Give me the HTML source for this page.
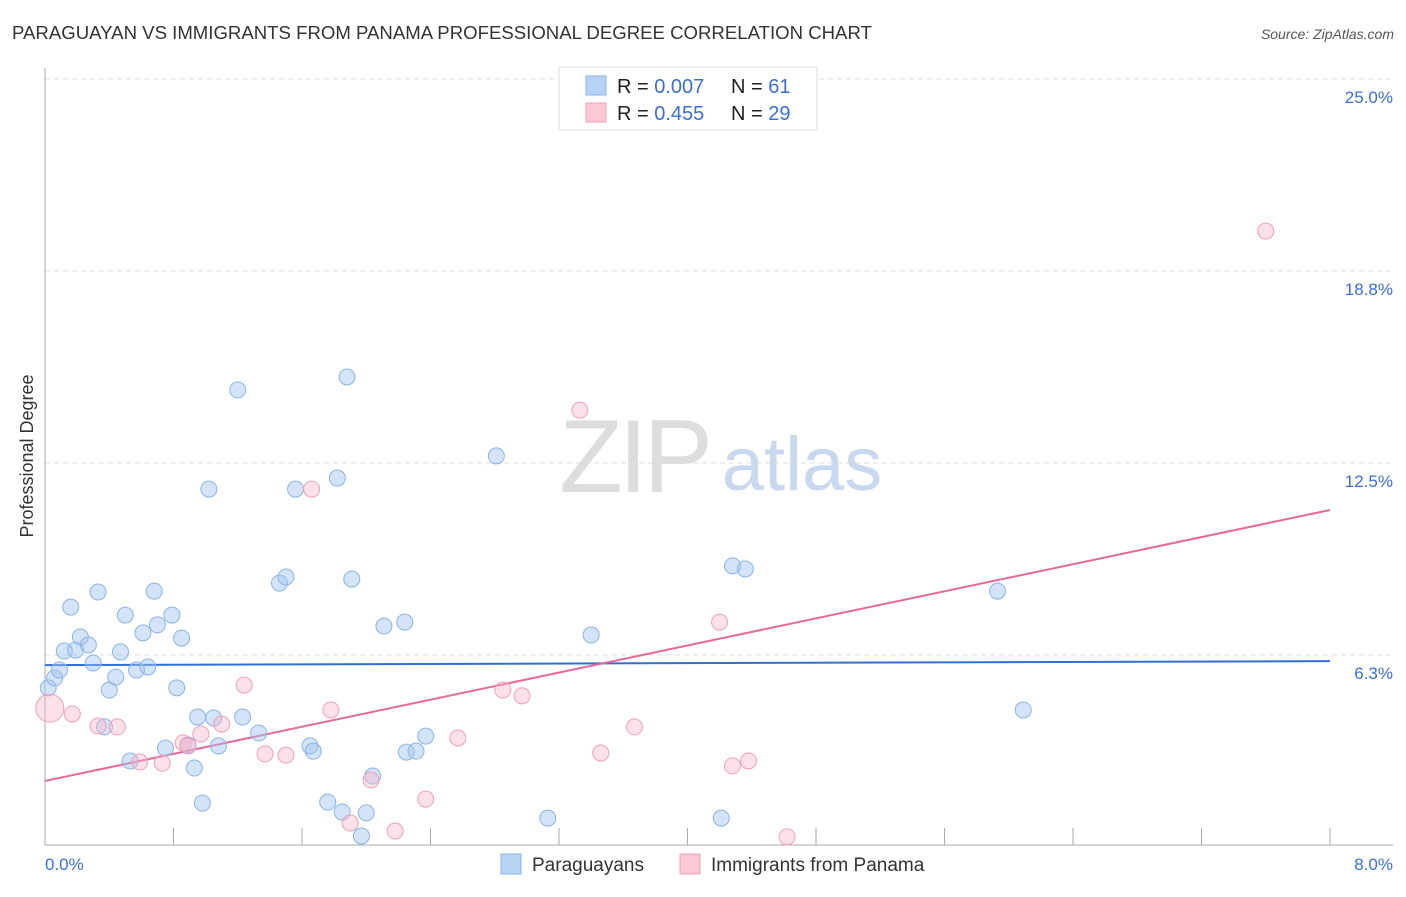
<!DOCTYPE html>
<html><head><meta charset="utf-8"><style>
body{margin:0;background:#fff;font-family:"Liberation Sans",sans-serif;}
svg text{font-family:"Liberation Sans",sans-serif;}
</style></head><body>
<svg id="chart" width="1406" height="892" xmlns="http://www.w3.org/2000/svg">
<text x="12" y="39" font-size="18.6" fill="#333">PARAGUAYAN VS IMMIGRANTS FROM PANAMA PROFESSIONAL DEGREE CORRELATION CHART</text>
<text x="1394" y="39" font-size="14" fill="#555" text-anchor="end" font-style="italic">Source: ZipAtlas.com</text>
<g>
<text x="634" y="492" font-size="104" fill="#ddd" text-anchor="middle" font-family="Liberation Serif" letter-spacing="-4">ZIP</text>
<text x="802" y="490" font-size="76" fill="#c8d8ef" text-anchor="middle">atlas</text>
</g>
<g id="grid"></g>
<g id="axes"></g>
<g id="lines"></g>
<g id="pts"></g>
<text transform="translate(33,456) rotate(-90)" font-size="18" fill="#333" text-anchor="middle">Professional Degree</text>
<text x="45" y="870" font-size="17" fill="#3a6fd8">0.0%</text>
<text x="1393" y="870" font-size="17" fill="#3a6fd8" text-anchor="end">8.0%</text>
<g>
<rect x="559" y="67" width="258" height="63" fill="#fff" stroke="#ddd"/>
<rect x="586" y="76" width="20" height="19" fill="#b8d2f5" stroke="#8ab4e8"/>
<rect x="586" y="103" width="20" height="19" fill="#fbc8d6" stroke="#f0a0b8"/>
<text x="617" y="93" font-size="20" fill="#222">R = <tspan fill="#3a6fd8">0.007</tspan></text>
<text x="731" y="93" font-size="20" fill="#222">N = <tspan fill="#3a6fd8"> 61</tspan></text>
<text x="617" y="120" font-size="20" fill="#222">R = <tspan fill="#3a6fd8"> 0.455</tspan></text>
<text x="731" y="120" font-size="20" fill="#222">N = <tspan fill="#3a6fd8">29</tspan></text>
</g>
<g>
<rect x="501" y="854" width="20" height="20" fill="#b8d2f5" stroke="#8ab4e8"/>
<text x="532" y="871" font-size="19" fill="#333">Paraguayans</text>
<rect x="680" y="854" width="20" height="20" fill="#fbc8d6" stroke="#f0a0b8"/>
<text x="711" y="871" font-size="19" fill="#333">Immigrants from Panama</text>
</g>
</svg>
<script>
const yTicks=[6.25,12.5,18.75,25];
const yTickLabels=["6.3%","12.5%","18.8%","25.0%"];
const xTickCount=10;
const blueX=[0.02,0.06,0.09,0.12,0.19,0.16,0.22,0.27,0.30,0.33,0.40,0.37,0.44,0.47,0.50,0.53,0.57,0.61,0.64,0.68,0.70,0.75,0.79,0.82,0.85,0.89,0.93,0.95,0.98,1.02,1.05,1.08,1.20,1.23,1.33,1.46,1.50,1.56,1.65,1.67,1.76,1.82,1.85,1.88,1.91,1.97,2.00,2.04,2.11,2.24,2.25,2.31,2.37,2.81,3.13,3.40,4.21,4.28,4.36,5.93,6.09];
const blueY=[5.18,5.50,5.76,6.38,6.41,7.81,6.84,6.58,5.99,8.30,5.11,3.91,5.53,6.35,7.55,2.80,5.76,6.97,5.86,8.33,7.23,3.22,7.55,5.18,6.80,3.32,2.57,4.23,1.43,11.65,4.20,3.29,14.88,4.23,3.71,8.59,8.79,11.65,3.29,3.12,1.46,12.01,1.14,15.30,8.72,0.36,1.11,2.31,7.19,7.32,3.09,3.12,3.61,12.73,0.94,6.90,0.94,9.15,9.05,8.33,4.46];
const pinkX=[0.03,0.17,0.33,0.45,0.59,0.73,0.86,0.89,0.97,1.10,1.24,1.37,1.50,1.66,1.78,1.90,2.03,2.18,2.37,2.57,2.85,2.97,3.33,3.46,3.67,4.20,4.28,4.38,4.62,7.60];
const pinkY=[4.52,4.33,3.94,3.91,2.77,2.73,3.39,3.29,3.68,4.00,5.27,3.03,2.99,11.65,4.46,0.78,2.18,0.52,1.56,3.55,5.11,4.92,14.22,3.06,3.91,7.32,2.64,2.80,0.33,20.05];
const blueTrend=[5.92,6.05];
const pinkTrend=[2.15,10.97];
const X0=45,X1=1330,Y0=847,PXPER=192/6.25;
const sx=v=>X0+v/8*(X1-X0);
const sy=v=>Y0-v*PXPER;
const NS="http://www.w3.org/2000/svg";
function mk(t,a,p){const e=document.createElementNS(NS,t);for(const k in a)e.setAttribute(k,a[k]);p.appendChild(e);return e;}
const grid=document.getElementById('grid'),axes=document.getElementById('axes'),lines=document.getElementById('lines'),pts=document.getElementById('pts');
yTicks.forEach((t,i)=>{
 const l=mk('line',{x1:45,x2:1393,y1:sy(t),y2:sy(t),stroke:'#ddd','stroke-dasharray':'5,4'},grid);
 
 
 const tx=mk('text',{x:1393,y:sy(t)+24,'font-size':17,fill:'#3a6fd8','text-anchor':'end'},grid);
 tx.textContent=yTickLabels[i];
 
 
});
const ya=mk('line',{x1:45,x2:45,y1:68,y2:845,stroke:'#aaa'},axes);


const xa=mk('line',{x1:45,x2:1393,y1:845,y2:845,stroke:'#aaa'},axes);


for(let i=1;i<=xTickCount;i++){
 const v=i*8/xTickCount;
 const t=mk('line',{x1:sx(v),x2:sx(v),y1:828,y2:845,stroke:'#aaa'},axes);
 
 
}
blueX.forEach((x,i)=>{
 const c=mk('circle',{cx:sx(x),cy:sy(blueY[i]),r:8,fill:'rgba(160,196,240,0.45)',stroke:'#8ab4e8','stroke-width':1},pts);
 
 
});
pinkX.forEach((x,i)=>{
 const c=mk('circle',{cx:sx(x),cy:sy(pinkY[i]),r:i===0?14:8,fill:'rgba(248,180,200,0.4)',stroke:'#f0a0b8','stroke-width':1},pts);
 
 
});
const bl=mk('line',{x1:sx(0),x2:sx(8),y1:sy(blueTrend[0]),y2:sy(blueTrend[1]),stroke:'#2f6fd6','stroke-width':2},lines);


const pl=mk('line',{x1:sx(0),x2:sx(8),y1:sy(pinkTrend[0]),y2:sy(pinkTrend[1]),stroke:'#e8689a','stroke-width':2},lines);


</script>
</body></html>
